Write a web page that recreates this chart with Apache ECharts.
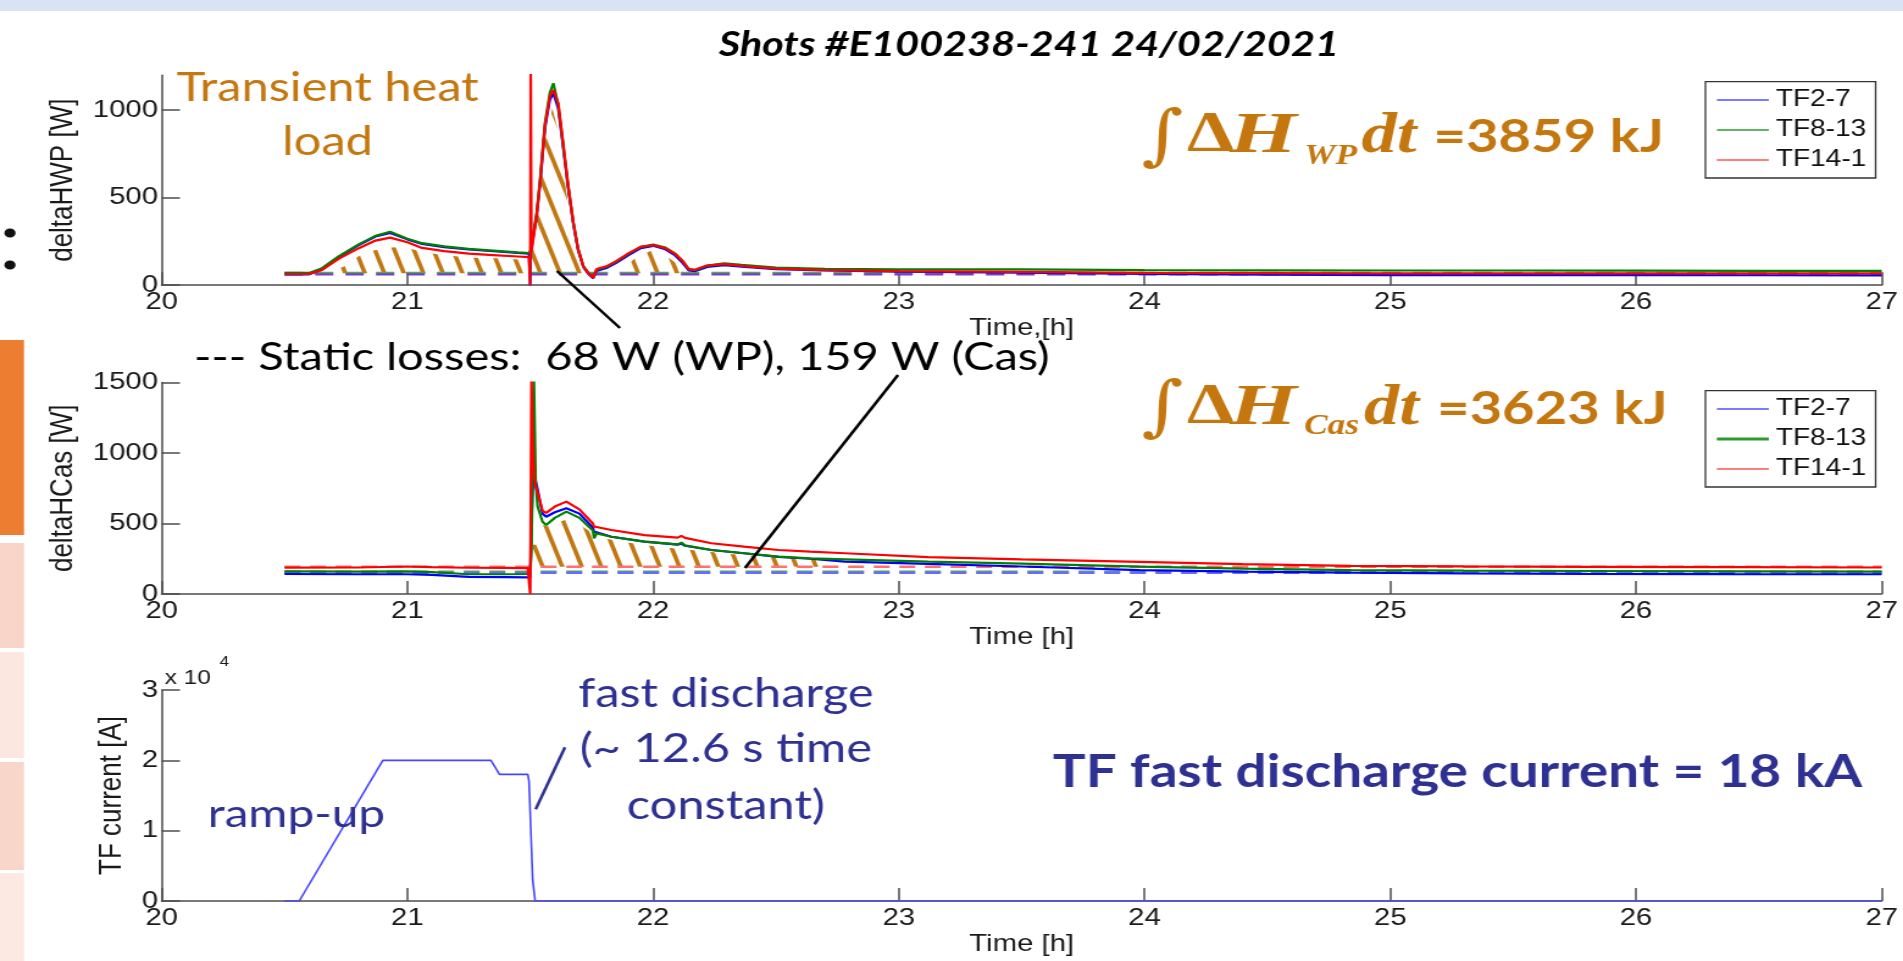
<!DOCTYPE html>
<html><head><meta charset="utf-8">
<script src="https://cdn.jsdelivr.net/npm/echarts/dist/echarts.min.js"></script>
<style>
html,body{margin:0;padding:0;width:1903px;height:961px;overflow:hidden;background:#fff;}
#chart{width:1560px;height:961px;transform:scaleX(1.2199);transform-origin:0 0;}
</style></head><body><div id="chart"></div>
<script>
// ---------- data ----------
const timeTicks = [20, 21, 22, 23, 24, 25, 26, 27];

// Panel 1: deltaHWP [W]
const timeWP = [20.50,20.60,20.65,20.72,20.80,20.87,20.93,21.00,21.06,21.15,21.25,21.35,21.45,21.495,21.500,21.502,21.505,21.526,21.54,21.56,21.58,21.594,21.614,21.634,21.654,21.675,21.695,21.716,21.736,21.756,21.77,21.81,21.85,21.90,21.95,22.00,22.05,22.09,22.12,22.145,22.17,22.22,22.29,22.36,22.50,22.70,23.00,23.50,24.00,24.50,25.00,25.50,26.00,26.50,27.00];
const wpBlue  = [62,62,88,160,228,278,298,262,236,218,204,194,184,180,0,185,215,395,580,900,1060,1098,1010,790,560,355,200,105,66,40,82,98,128,172,212,225,205,170,128,84,80,104,115,106,92,84,78,72,64,60,58,58,58,57,56];
const wpGreen = [70,70,95,165,232,282,305,265,240,222,208,198,188,184,190,200,230,412,601,926,1100,1154,1030,800,570,360,205,110,72,45,88,105,135,180,218,232,215,180,140,92,86,112,125,116,100,93,90,90,86,85,84,84,83,82,82];
const wpRed   = [64,64,85,150,210,255,272,245,213,195,180,172,164,160,0,1250,190,400,590,915,1080,1115,1040,810,575,362,205,108,70,42,92,108,138,182,220,228,212,178,138,92,88,112,120,110,95,86,80,76,70,69,68,68,68,68,68];
const hatchTimeWP = [20.66,20.74,20.82,20.90,20.98,21.06,21.14,21.22,21.30,21.38,21.48,21.49,21.50,21.53,21.56,21.59,21.61,21.63,21.65,21.67,21.69,21.71,21.86,21.93,21.99,22.05,22.10,22.13];
const hatchTopWP  = [68,106,182,211,220,191,173,163,154,154,144,68,300,380,820,1010,900,700,500,320,160,68,68,160,195,170,120,68];
const staticTime = [20.5, 27];
const staticWP = 68;
const staticWPPurple = [64, 64];
const staticWPGreen  = [72, 72];

// Panel 2: deltaHCas [W]
const timeCas = [20.50,20.80,21.00,21.10,21.25,21.40,21.49,21.500,21.505,21.51,21.515,21.522,21.53,21.55,21.565,21.60,21.647,21.70,21.755,21.76,21.77,21.83,21.965,22.10,22.115,22.13,22.237,22.37,22.51,22.64,22.78,23.12,23.50,23.98,24.40,24.84,25.30,25.80,26.40,27.00];
const casRed   = [187,188,195,190,186,185,184,0,1520,1100,850,760,720,590,575,620,655,600,500,478,475,454,418,400,412,398,360,336,312,300,289,262,245,228,212,200,196,193,190,188];
const casGreen = [160,158,160,155,140,140,142,150,300,900,1520,800,620,513,490,540,584,540,450,395,430,406,371,352,364,345,312,289,265,253,246,229,215,194,180,170,166,163,160,158];
const casBlue  = [142,140,140,135,122,120,118,120,500,750,880,800,740,570,548,580,608,570,470,440,438,406,371,350,358,342,312,289,263,250,230,213,195,170,158,151,146,143,141,140];
const hatchTimeCas = [21.505,21.51,21.525,21.53,21.57,21.65,21.70,21.78,21.86,21.94,22.02,22.12,22.20,22.30,22.40,22.50,22.60,22.67,22.68];
const hatchTopCas  = [194,350,350,500,480,530,493,400,376,352,335,318,305,285,272,258,250,245,194];
const staticCas = 159;
const staticCasBase = 194;
const staticCasRed   = [193, 193];
const staticCasGreen = [158, 158];
const staticCasBlue  = [151, 151];

// Panel 3: TF current [A]
const timeCurrent = [20.50,20.56,20.90,21.34,21.375,21.49,21.495,21.51,21.52,27.00];
const tfCurrent   = [0,0,20000,20000,18000,18000,17000,3000,0,0];

const wpTicks = [0, 500, 1000];
const casTicks = [0, 500, 1000, 1500];
const currentTicks = [0, 10000, 20000, 30000];
const legendNames = ['TF2-7', 'TF8-13', 'TF14-1'];

// ---------- helpers ----------
const zip = (t, v) => t.map((x, i) => [x, v[i]]);
const ORANGE = '#c5770f', NAVY = '#2e3192';
const C_BLUE = '#0000ff', C_GREEN = '#008000', C_RED = '#ff0000';
const AX = '#4d4d4d', TXT = '#1a1a1a', AF = 'Liberation Sans';

function hatchPattern() {
  const c = document.createElement('canvas');
  c.width = 16; c.height = 48;
  const ctx = c.getContext('2d');
  ctx.strokeStyle = '#c27812'; ctx.lineWidth = 3.6;
  for (let k = -1; k <= 1; k++) {
    ctx.beginPath();
    ctx.moveTo(k * 16 - 8 / 3, -8);
    ctx.lineTo(k * 16 + 16 + 8 / 3, 56);
    ctx.stroke();
  }
  return c;
}
const pat = hatchPattern();

const grids = [
  { left: 132.5, width: 1410, top: 75.2, height: 210 },
  { left: 132.5, width: 1410, top: 382.5, height: 211.5 },
  { left: 132.5, width: 1410, top: 690, height: 211 }
];

function xAx(i, name) {
  return {
    type: 'value', gridIndex: i, min: 20, max: 27, interval: 1,
    name: name, nameLocation: 'middle', nameGap: 31,
    nameTextStyle: { fontFamily: AF, fontSize: 24, color: TXT },
    axisLine: { show: true, onZero: false, lineStyle: { color: AX, width: 1.5 } },
    axisTick: { show: true, inside: true, length: 13, lineStyle: { color: AX, width: 1.5 } },
    axisLabel: { fontFamily: AF, fontSize: 24, color: TXT, margin: 5, formatter: v => String(v) },
    splitLine: { show: false }
  };
}
function yAx(i, name, max, ticks, gap, fmt) {
  return {
    type: 'value', gridIndex: i, min: 0, max: max,
    name: name, nameLocation: 'middle', nameGap: gap, nameRotate: 90,
    nameTextStyle: { fontFamily: AF, fontSize: 26, color: TXT },
    axisLine: { show: true, lineStyle: { color: AX, width: 1.5 } },
    axisTick: { show: true, inside: true, length: 15, customValues: ticks, lineStyle: { color: AX, width: 1.5 } },
    axisLabel: { fontFamily: AF, fontSize: 24, color: TXT, margin: 3, customValues: ticks, formatter: fmt || (v => String(v)) },
    splitLine: { show: false }
  };
}
function line(name, xi, data, color, width, z, dash) {
  return {
    type: 'line', name: name, xAxisIndex: xi, yAxisIndex: xi, data: data,
    symbol: 'none', showSymbol: false, silent: true, z: z,
    lineStyle: { color: color, width: width, type: dash || 'solid' },
    itemStyle: { color: color }
  };
}
function hatch(xi, data, origin) {
  return {
    type: 'line', xAxisIndex: xi, yAxisIndex: xi, data: data,
    symbol: 'none', showSymbol: false, silent: true, z: 1,
    lineStyle: { width: 0, opacity: 0 },
    areaStyle: { color: { image: pat, repeat: 'repeat' }, opacity: 1, origin: origin }
  };
}

// ---------- graphic annotations ----------
const T = (x, y, text, font, fill, align, sx) => ({
  type: 'text', x: x, y: y, z: 100, silent: true, scaleX: sx || 1,
  style: { text: text, font: font, fill: fill, align: align || 'left', textAlign: align || 'left', verticalAlign: 'middle', textVerticalAlign: 'middle' }
});
const L = (x1, y1, x2, y2, color, w) => ({
  type: 'line', z: 100, silent: true, shape: { x1, y1, x2, y2 }, style: { stroke: color, lineWidth: w }
});
const R = (x, y, w, h, fill) => ({ type: 'rect', z: 0, silent: true, shape: { x, y, width: w, height: h }, style: { fill } });

function legendBox(top, greenW) {
  const els = [{ type: 'rect', z: 90, silent: true, shape: { x: 1398, y: top, width: 139.5, height: 96.3 }, style: { fill: '#fff', stroke: '#333', lineWidth: 1.3 } }];
  const cols = ['#4f4fff', '#2e9a2e', '#ff5555'];
  legendNames.forEach((n, i) => {
    const y = top + 18.3 + i * 30;
    els.push(L(1407.4, y, 1450, y, cols[i], i === 1 ? greenW : 1.5));
    els.push(T(1455.7, y, n, '23px ' + AF, '#111'));
  });
  return els;
}

function integral(cy, subY, intY, sub, dtX, eqX, value) {
  return [
    T(953, intY, '\u222B', '66px DejaVu Serif', ORANGE, 'center'),
    T(973, cy, '\u0394', 'bold 56px Liberation Serif', ORANGE, 'left', 1.1),
    T(1008, cy, 'H', 'bold italic 58px Liberation Serif', ORANGE, 'left', 1.22),
    T(1069, subY, sub, 'bold italic 29px Liberation Serif', ORANGE),
    T(dtX, cy, 'dt', 'bold italic 58px Liberation Serif', ORANGE),
    T(eqX, cy, value, 'bold 46px Lato', ORANGE)
  ];
}

const graphics = [
  R(0, 0, 1560, 11, '#dae3f3'),
  R(0, 340, 19.7, 195, '#ed7d31'),
  R(0, 543, 19.7, 105, '#f8d5c8'),
  R(0, 652, 19.7, 106, '#fbe7df'),
  R(0, 762, 19.7, 108, '#f8d6c9'),
  R(0, 873, 19.7, 88, '#fbe9e2'),
  { type: 'circle', z: 0, silent: true, shape: { cx: 8.2, cy: 233, r: 4.6 }, style: { fill: '#111' } },
  { type: 'circle', z: 0, silent: true, shape: { cx: 8.2, cy: 265, r: 4.6 }, style: { fill: '#111' } },
  T(843.4, 45, 'Shots #E100238-241 24/02/2021', 'bold italic 34px Lato', '#000', 'center'),
  T(268.5, 88, 'Transient heat', '40px Lato', ORANGE, 'center'),
  T(268.5, 142, 'load', '40px Lato', ORANGE, 'center'),
  ...integral(137, 157, 140, 'WP', 1116, 1175, '=3859 kJ'),
  ...integral(409, 427, 411, 'Cas', 1118, 1178, '=3623 kJ'),
  T(159, 358, '--- Static losses:  ' + staticWP + ' W (WP), ' + staticCas + ' W (Cas)', '38.5px Lato', '#000'),
  L(456.6, 271, 508.2, 328, '#000', 2.5),
  L(610.7, 568, 736.1, 375, '#000', 2.5),
  T(243, 814, 'ramp-up', '39px Lato', NAVY, 'center'),
  T(595, 694, 'fast discharge', '40px Lato', NAVY, 'center'),
  T(595, 749, '(~ 12.6 s time', '40px Lato', NAVY, 'center'),
  T(595, 806, 'constant)', '40px Lato', NAVY, 'center'),
  L(439.1, 809.3, 463.1, 747.3, NAVY, 2.5),
  T(1194.7, 772, 'TF fast discharge current = 18 kA', 'bold 45px Lato', NAVY, 'center'),
  T(135, 678, 'x 10', '20px ' + AF, TXT),
  T(180, 662, '4', '14px ' + AF, TXT),
  ...legendBox(81.7, 1.5),
  ...legendBox(390.7, 3)
];

const option = {
  animation: false,
  backgroundColor: '#fff',
  grid: grids,
  xAxis: [xAx(0, 'Time,[h]'), xAx(1, 'Time [h]'), xAx(2, 'Time [h]')],
  yAxis: [
    yAx(0, 'deltaHWP [W]', 1200, wpTicks, 39),
    yAx(1, 'deltaHCas [W]', 1500, casTicks, 39),
    yAx(2, 'TF current [A]', 30000, currentTicks, 8, v => String(v / 10000))
  ],
  series: [
    hatch(0, zip(hatchTimeWP, hatchTopWP), staticWP),
    line('static WP a', 0, zip(staticTime, staticWPPurple), '#7d3cc8', 3, 3, [15, 10]),
    line('static WP b', 0, zip(staticTime, staticWPGreen), '#4caf50', 1.5, 3, [15, 10]),
    line(legendNames[0], 0, zip(timeWP, wpBlue), C_BLUE, 2.2, 4),
    line(legendNames[1], 0, zip(timeWP, wpGreen), C_GREEN, 2.2, 4),
    line(legendNames[2], 0, zip(timeWP, wpRed), C_RED, 2.2, 5),

    hatch(1, zip(hatchTimeCas, hatchTopCas), staticCasBase),
    line('static Cas r', 1, zip(staticTime, staticCasRed), '#ff7070', 2.5, 3, [13, 8]),
    line('static Cas g', 1, zip(staticTime, staticCasGreen), '#4caf50', 2.5, 3, [13, 8]),
    line('static Cas b', 1, zip(staticTime, staticCasBlue), '#6a6aff', 2.5, 3, [13, 8]),
    line(legendNames[0], 1, zip(timeCas, casBlue), C_BLUE, 2.2, 4),
    line(legendNames[1], 1, zip(timeCas, casGreen), C_GREEN, 2.2, 4),
    line(legendNames[2], 1, zip(timeCas, casRed), C_RED, 2.2, 5),

    line('TF current', 2, zip(timeCurrent, tfCurrent), '#4646ff', 1.6, 4)
  ],
  graphic: { elements: graphics }
};
const chart = echarts.init(document.getElementById('chart'), null, { renderer: 'canvas' });
chart.setOption(option);
</script></body></html>
